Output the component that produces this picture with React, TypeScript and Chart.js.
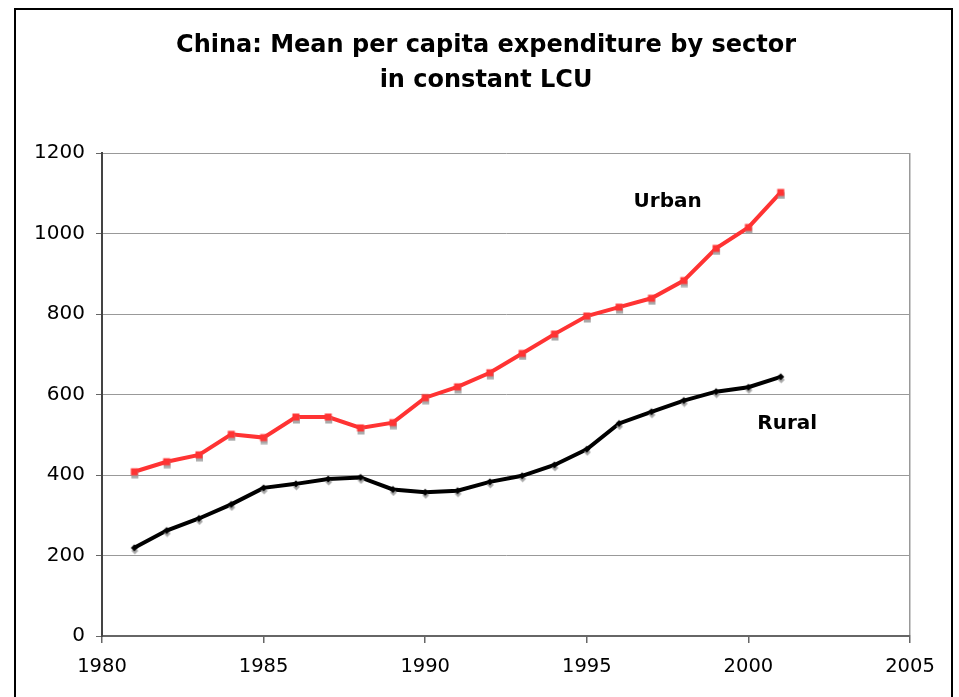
import React, { useEffect, useRef } from "react";
import { Chart, registerables } from "chart.js";

Chart.register(...registerables);

const years = [1981,1982,1983,1984,1985,1986,1987,1988,1989,1990,1991,1992,1993,1994,1995,1996,1997,1998,1999,2000,2001];
const urban = [408,433,450,501,493,544,544,517,530,592,619,654,702,750,795,817,839,883,963,1015,1102];
const rural = [219,262,292,327,368,378,390,394,364,357,361,383,398,425,464,528,557,585,607,618,644];
const titleLines = ["China: Mean per capita expenditure by sector", "in constant LCU"];
const seriesNames = ["Urban", "Rural"];
const labelAnchors = [[1997.5, 1080], [2001.2, 527]];

const FONT = "'DejaVu Sans', Verdana, sans-serif";

function makeMarker(kind: "rect" | "diamond", color: string): HTMLCanvasElement {
  const c = document.createElement("canvas");
  const w = 12, h = 14;
  c.width = w; c.height = h;
  const g = c.getContext("2d")!;
  const cx = w / 2, cy = h / 2;
  const drawShape = (x: number, y: number, fill: string) => {
    g.fillStyle = fill;
    if (kind === "rect") {
      g.fillRect(x - 3.5, y - 3.5, 7, 7);
    } else {
      g.beginPath();
      g.moveTo(x, y - 3.5); g.lineTo(x + 3.5, y); g.lineTo(x, y + 3.5); g.lineTo(x - 3.5, y); g.closePath();
      g.fill();
    }
  };
  drawShape(cx + 0.5, cy + 3, "rgba(160,160,160,0.9)");
  drawShape(cx, cy, color);
  return c;
}

export default function App() {
  const ref = useRef<HTMLCanvasElement | null>(null);
  useEffect(() => {
    const canvas = ref.current!;
    const frame = {
      id: "frame",
      beforeDraw(chart: any) {
        const ctx = chart.ctx;
        ctx.save();
        ctx.fillStyle = "#fff";
        ctx.fillRect(0, 0, chart.width, chart.height);
        ctx.strokeStyle = "#000";
        ctx.lineWidth = 2;
        ctx.strokeRect(15, 9, 937, 720);
        ctx.font = `bold 24px ${FONT}`;
        ctx.fillStyle = "#000";
        ctx.textAlign = "center";
        ctx.textBaseline = "middle";
        titleLines.forEach((t, i) => ctx.fillText(t, 486, 46 + i * 35));
        ctx.restore();
      },
      afterDraw(chart: any) {
        const ctx = chart.ctx;
        const xs = chart.scales.x, ys = chart.scales.y;
        ctx.save();
        ctx.font = `bold 20px ${FONT}`;
        ctx.fillStyle = "#000";
        ctx.textAlign = "center";
        ctx.textBaseline = "middle";
        seriesNames.forEach((n, i) => {
          ctx.fillText(n, xs.getPixelForValue(labelAnchors[i][0]), ys.getPixelForValue(labelAnchors[i][1]));
        });
        ctx.restore();
      },
    };
    const chart = new Chart(canvas, {
      type: "line",
      data: {
        datasets: [
          {
            label: seriesNames[0],
            data: years.map((y, i) => ({ x: y, y: urban[i] })),
            borderColor: "#ff3333",
            borderWidth: 4,
            pointStyle: makeMarker("rect", "#ff3333") as any,
            pointRadius: 4,
            tension: 0,
          },
          {
            label: seriesNames[1],
            data: years.map((y, i) => ({ x: y, y: rural[i] })),
            borderColor: "#000",
            borderWidth: 4,
            pointStyle: makeMarker("diamond", "#000") as any,
            pointRadius: 4,
            tension: 0,
          },
        ],
      },
      options: {
        responsive: false,
        animation: false,
        devicePixelRatio: 1,
        layout: { padding: { left: 0, right: 49, top: 153, bottom: 0 } },
        plugins: {
          legend: { display: false },
          tooltip: { enabled: false },
          title: { display: false },
        },
        scales: {
          x: {
            type: "linear",
            min: 1980,
            max: 2005,
            ticks: { stepSize: 5, color: "#000", font: { family: FONT, size: 19.5 }, padding: 12, callback: (v: any) => String(v) },
            grid: {
              drawOnChartArea: true,
              color: (c: any) => (c.index === 5 ? "#999" : "rgba(0,0,0,0)"),
              tickColor: "#666",
              tickLength: 7,
              lineWidth: 1.5,
            },
            border: { color: "#666", width: 2 },
            afterFit: (s: any) => { s.height = 61; },
          },
          y: {
            min: 0,
            max: 1200,
            ticks: { stepSize: 200, color: "#000", font: { family: FONT, size: 20 }, padding: 11, callback: (v: any) => String(v) },
            grid: { color: "#999", lineWidth: 1, tickColor: "#666", tickLength: 6 },
            border: { color: "#444", width: 2 },
            afterFit: (s: any) => { s.width = 102; },
          },
        },
      },
      plugins: [frame],
    });
    return () => chart.destroy();
  }, []);
  return (
    <div style={{ position: "absolute", left: 0, top: 0, width: 959, height: 697 }}>
      <canvas ref={ref} width={959} height={697} />
    </div>
  );
}
